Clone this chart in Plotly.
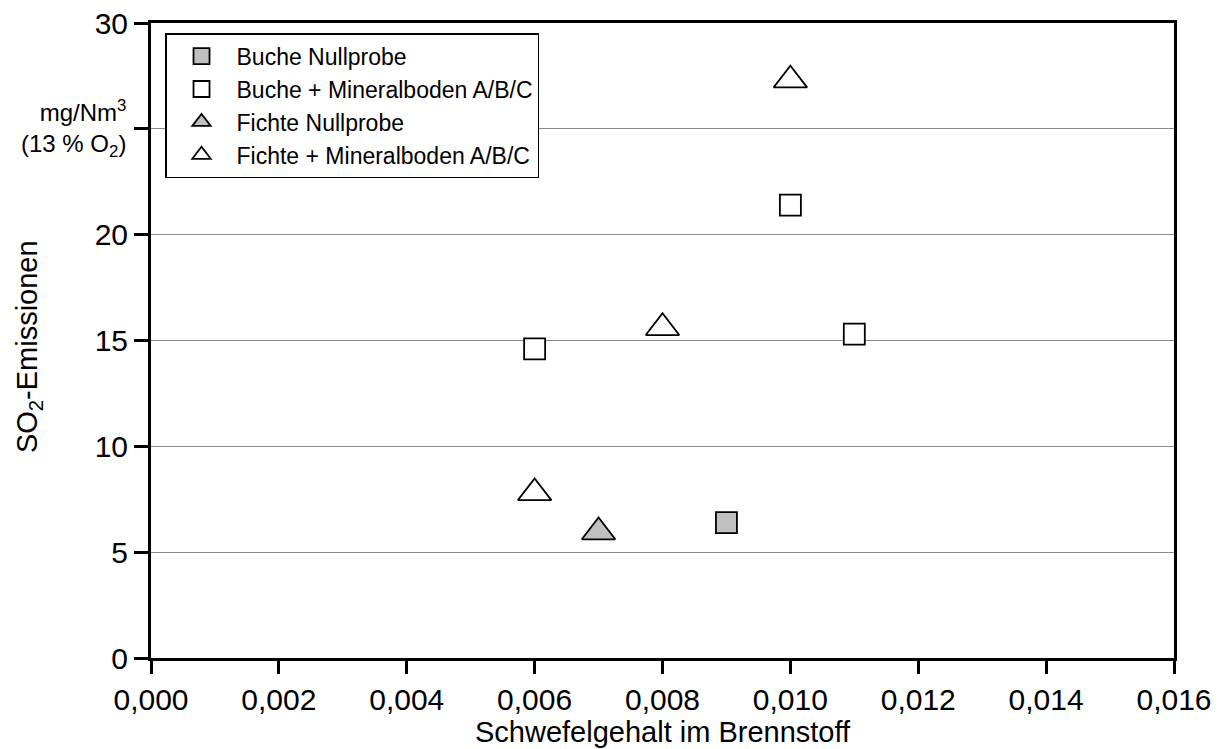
import plotly.graph_objects as go

# Schwefelgehalt im Brennstoff (x) und SO2-Emissionen in mg/Nm3 bei 13 % O2 (y)
buche_null_x = [0.009]
buche_null_y = [6.4]

buche_mb_x = [0.006, 0.010, 0.011]
buche_mb_y = [14.6, 21.4, 15.3]

fichte_null_x = [0.007]
fichte_null_y = [5.95]

fichte_mb_x = [0.006, 0.008, 0.010]
fichte_mb_y = [7.8, 15.6, 27.3]

x_ticks = [0.000, 0.002, 0.004, 0.006, 0.008, 0.010, 0.012, 0.014, 0.016]
y_ticks = [0, 5, 10, 15, 20, 25, 30]
y_ticktext = ["0", "5", "10", "15", "20", "", "30"]

FONT = "Liberation Sans, Arial, sans-serif"
GREY = "#c0c0c0"

fig = go.Figure()

def add_series(name, xs, ys, symbol, fill, size):
    fig.add_trace(go.Scatter(
        x=xs, y=ys, mode="markers", name=name,
        marker=dict(symbol=symbol, size=size, color=fill,
                    line=dict(color="black", width=1.8)),
    ))

add_series("Buche Nullprobe", buche_null_x, buche_null_y, "square", GREY, 21)
add_series("Buche + Mineralboden A/B/C", buche_mb_x, buche_mb_y, "square", "white", 21)
add_series("Fichte Nullprobe", fichte_null_x, fichte_null_y, "triangle-up", GREY, 29)
add_series("Fichte + Mineralboden A/B/C", fichte_mb_x, fichte_mb_y, "triangle-up", "white", 29)

fig.update_layout(
    width=1227, height=749,
    margin=dict(l=151, r=53, t=23, b=91, autoexpand=False),
    paper_bgcolor="white", plot_bgcolor="white",
    font=dict(family=FONT, color="black"),
    separators=",.",
    showlegend=True,
    legend=dict(
        x=0.0137, y=0.984, xanchor="left", yanchor="top",
        bgcolor="white", bordercolor="black", borderwidth=1.5,
        font=dict(size=23, family=FONT),
        itemsizing="trace", itemwidth=60, tracegroupgap=0,
        traceorder="normal",
    ),
    xaxis=dict(
        range=[0, 0.016], tickvals=x_ticks, tickformat=".3f",
        showgrid=False, zeroline=False, automargin=False,
        showline=True, linecolor="black", linewidth=3, mirror=True,
        ticks="outside", ticklen=13, tickwidth=3, tickcolor="black",
        tickfont=dict(size=30, family=FONT),
    ),
    yaxis=dict(
        range=[0, 30], tickvals=y_ticks, ticktext=y_ticktext,
        showgrid=True, gridcolor="#8a8a8a", gridwidth=1, zeroline=False,
        automargin=False,
        showline=True, linecolor="black", linewidth=3, mirror=True,
        ticks="outside", ticklen=14, tickwidth=3, tickcolor="black",
        tickfont=dict(size=30, family=FONT),
    ),
    annotations=[
        dict(text="Schwefelgehalt im Brennstoff", xref="paper", yref="paper",
             x=0.5, y=-0.145, xanchor="center", yanchor="bottom", showarrow=False,
             font=dict(size=29, family=FONT)),
        dict(text="SO<sub>2</sub>-Emissionen", xref="paper", yref="paper",
             x=-0.119, y=0.49, xanchor="center", yanchor="middle", showarrow=False,
             textangle=-90, font=dict(size=29, family=FONT)),
        dict(text="mg/Nm<sup>3</sup><br>(13 % O<sub>2</sub>)", xref="paper", yref="y",
             x=-0.022, y=25, xanchor="right", yanchor="middle", showarrow=False,
             align="right", font=dict(size=24, family=FONT)),
    ],
)

fig.write_html("out.html")
